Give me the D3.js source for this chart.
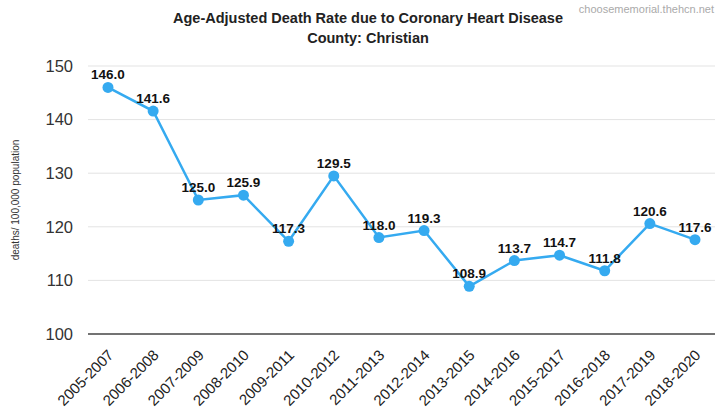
<!DOCTYPE html>
<html><head><meta charset="utf-8">
<script src="https://cdn.jsdelivr.net/npm/d3@7"></script>
<style>body{margin:0;background:#fff;}svg{display:block;font-family:"Liberation Sans",Arial,sans-serif;}</style>
</head><body>
<svg id="c" width="717" height="414"></svg>
<script>
const categories = ["2005-2007","2006-2008","2007-2009","2008-2010","2009-2011","2010-2012","2011-2013","2012-2014","2013-2015","2014-2016","2015-2017","2016-2018","2017-2019","2018-2020"];
const values = [146.0,141.6,125.0,125.9,117.3,129.5,118.0,119.3,108.9,113.7,114.7,111.8,120.6,117.6];
const yTicks = [100,110,120,130,140,150];

const svg = d3.select("#c");
const x = d3.scalePoint().domain(categories).range([108, 695]);
const y = d3.scaleLinear().domain([100,150]).range([334, 66]);

// gridlines
svg.append("g").selectAll("line").data(yTicks.filter(d=>d!==100)).join("line")
  .attr("x1", 88).attr("x2", 715).attr("y1", d=>y(d)).attr("y2", d=>y(d))
  .attr("stroke", "#e3e3e3").attr("stroke-width", 1);

// y axis labels
const yAxis = d3.axisLeft(y).tickValues(yTicks).tickSize(0).tickPadding(0).tickFormat(d3.format("d"));
const ya = svg.append("g").attr("transform", "translate(73,0)").call(yAxis);
ya.select(".domain").remove();
ya.selectAll("text").attr("font-size", 16.5).attr("fill", "#333").attr("font-family", "Liberation Sans, Arial, sans-serif");

// x baseline
svg.append("line").attr("x1", 88).attr("x2", 715).attr("y1", y(100)).attr("y2", y(100))
  .attr("stroke", "#444").attr("stroke-width", 1.5);

// x axis labels
const xAxis = d3.axisBottom(x).tickSize(0).tickPadding(0);
const xa = svg.append("g").attr("transform", `translate(0,${y(100)})`).call(xAxis);
xa.select(".domain").remove();
xa.selectAll("text")
  .attr("font-size", 15).attr("fill", "#222").attr("font-family", "Liberation Sans, Arial, sans-serif")
  .attr("text-anchor", "end").attr("dy", null).attr("y", 0)
  .attr("transform", "translate(6,22) rotate(-45)");

// line
svg.append("path").datum(values)
  .attr("d", d3.line().x((d,i)=>x(categories[i])).y(d=>y(d)))
  .attr("fill", "none").attr("stroke", "#35aaf0").attr("stroke-width", 2.5);

// points
svg.append("g").selectAll("circle").data(values).join("circle")
  .attr("cx", (d,i)=>x(categories[i])).attr("cy", d=>y(d)).attr("r", 5.5)
  .attr("fill", "#35aaf0");

// data labels
svg.append("g").selectAll("text").data(values).join("text")
  .attr("x", (d,i)=>x(categories[i])).attr("y", d=>y(d)-8)
  .attr("text-anchor", "middle").attr("font-size", 13.5).attr("font-weight", "bold").attr("fill", "#111")
  .text(d=>d.toFixed(1));

// title
svg.append("text").attr("x", 368).attr("y", 23).attr("text-anchor", "middle")
  .attr("font-size", 14.5).attr("font-weight", "bold").attr("fill", "#222")
  .text("Age-Adjusted Death Rate due to Coronary Heart Disease");
svg.append("text").attr("x", 368).attr("y", 43).attr("text-anchor", "middle")
  .attr("font-size", 14.5).attr("font-weight", "bold").attr("fill", "#222")
  .text("County: Christian");

// watermark
svg.append("text").attr("x", 714).attr("y", 13).attr("text-anchor", "end")
  .attr("font-size", 11).attr("fill", "#aaa").text("choosememorial.thehcn.net");

// y axis title
svg.append("text").attr("transform", "translate(19,200) rotate(-90)").attr("text-anchor", "middle")
  .attr("font-size", 10).attr("fill", "#333").text("deaths/ 100,000 population");
</script>
</body></html>
